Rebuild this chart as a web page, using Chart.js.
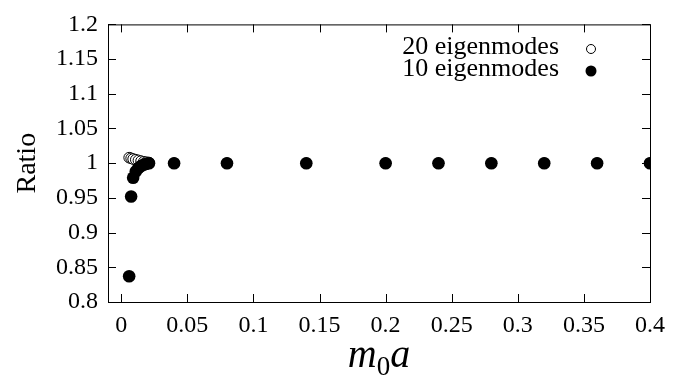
<!DOCTYPE html>
<html lang="en">
<head>
<meta charset="UTF-8">
<title>Ratio vs m0a</title>
<script src="https://cdn.jsdelivr.net/npm/chart.js"></script>
<style>
    body { margin: 0; background: #fff; }
    #wrap { width: 697px; height: 385px; }
</style>
</head>
<body>
<div id="wrap"><canvas id="chart" width="697" height="385"></canvas></div>
<script>
    // values
    const massValues = [0.006, 0.0075, 0.009, 0.011, 0.013, 0.015, 0.017, 0.019, 0.021,
                        0.04, 0.08, 0.14, 0.2, 0.24, 0.28, 0.32, 0.36, 0.4];
    const ratio20 = [1.008, 1.007, 1.006, 1.005, 1.004, 1.003, 1.002, 1.0015, 1.001,
                     1, 1, 1, 1, 1, 1, 1, 1, 1];
    const ratio10 = [0.837, 0.952, 0.979, 0.988, 0.993, 0.996, 0.998, 0.999, 1.0,
                     1, 1, 1, 1, 1, 1, 1, 1, 1];
    const xTicks = [0, 0.05, 0.1, 0.15, 0.2, 0.25, 0.3, 0.35, 0.4];
    const yTicks = [0.8, 0.85, 0.9, 0.95, 1, 1.05, 1.1, 1.15, 1.2];
    const seriesNames = ["20 eigenmodes", "10 eigenmodes"];

    const serif = "'Liberation Serif', 'DejaVu Serif', serif";

    function toPoints(xs, ys) {
        return xs.map((x, i) => ({ x: x, y: ys[i] }));
    }

    // inward tick marks on all four sides + x title + legend
    const decorations = {
        id: "decorations",
        afterDraw(chart) {
            const ctx = chart.ctx;
            const a = chart.chartArea;
            const xs = chart.scales.x, ys = chart.scales.y;
            ctx.save();
            ctx.strokeStyle = "#000";
            ctx.lineWidth = 1;
            ctx.strokeRect(a.left + 0.5, a.top + 0.5, a.right - a.left, a.bottom - a.top);
            ctx.beginPath();
            xTicks.forEach(v => {
                const px = Math.round(xs.getPixelForValue(v)) + 0.5;
                ctx.moveTo(px, a.bottom); ctx.lineTo(px, a.bottom - 8);
                ctx.moveTo(px, a.top); ctx.lineTo(px, a.top + 8);
            });
            yTicks.forEach(v => {
                const py = Math.round(ys.getPixelForValue(v)) + 0.5;
                ctx.moveTo(a.left, py); ctx.lineTo(a.left + 8, py);
                ctx.moveTo(a.right, py); ctx.lineTo(a.right - 8, py);
            });
            ctx.stroke();

            // x axis title: m_0 a
            ctx.fillStyle = "#000";
            ctx.textBaseline = "alphabetic";
            ctx.textAlign = "left";
            ctx.font = "italic 40px " + serif;
            const mW = ctx.measureText("m").width;
            ctx.font = "27px " + serif;
            const zW = ctx.measureText("0").width;
            ctx.font = "italic 40px " + serif;
            const aW = ctx.measureText("a").width;
            let x0 = (a.left + a.right) / 2 - (mW + zW + aW) / 2;
            const base = 367;
            ctx.fillText("m", x0, base);
            ctx.font = "27px " + serif;
            ctx.fillText("0", x0 + mW, base + 8);
            ctx.font = "italic 40px " + serif;
            ctx.fillText("a", x0 + mW + zW, base);

            // legend in top right
            ctx.font = "26px " + serif;
            ctx.textAlign = "right";
            ctx.textBaseline = "middle";
            const rows = [47, 69];
            seriesNames.forEach((name, i) => {
                ctx.fillText(name, 559, rows[i]);
                ctx.beginPath();
                ctx.arc(591, rows[i] + 2, i === 0 ? 4.5 : 5.5, 0, Math.PI * 2);
                if (i === 0) { ctx.fillStyle = "#fff"; ctx.fill(); ctx.stroke(); }
                else { ctx.fillStyle = "#000"; ctx.fill(); }
                ctx.fillStyle = "#000";
            });
            ctx.restore();
        }
    };

    new Chart(document.getElementById("chart").getContext("2d"), {
        type: "scatter",
        data: {
            datasets: [
                {
                    label: seriesNames[0],
                    data: toPoints(massValues, ratio20),
                    pointRadius: 5.3,
                    pointBackgroundColor: "#fff",
                    pointBorderColor: "#000",
                    pointBorderWidth: 1,
                    order: 1
                },
                {
                    label: seriesNames[1],
                    data: toPoints(massValues, ratio10),
                    pointRadius: 6.3,
                    pointBackgroundColor: "#000",
                    pointBorderColor: "#000",
                    pointBorderWidth: 0,
                    order: 0
                }
            ]
        },
        options: {
            responsive: false,
            animation: false,
            layout: { padding: { left: 0, right: 47, top: 14, bottom: 0 } },
            plugins: { legend: { display: false }, tooltip: { enabled: false } },
            scales: {
                x: {
                    type: "linear",
                    min: -0.01,
                    max: 0.4,
                    afterBuildTicks: s => { s.ticks = xTicks.map(v => ({ value: v })); },
                    afterFit: s => { s.height = 83; },
                    grid: { display: false, drawTicks: false },
                    border: { display: false },
                    ticks: {
                        color: "#000",
                        padding: 9,
                        maxRotation: 0,
                        font: { family: serif, size: 24 },
                        callback: v => String(v)
                    }
                },
                y: {
                    min: 0.8,
                    max: 1.2,
                    afterBuildTicks: s => { s.ticks = yTicks.map(v => ({ value: v })); },
                    afterFit: s => { s.width = 108; },
                    grid: { display: false, drawTicks: false },
                    border: { display: false },
                    title: {
                        display: true,
                        text: "Ratio",
                        color: "#000",
                        font: { family: serif, size: 28 },
                        padding: { top: 11, bottom: 0 }
                    },
                    ticks: {
                        color: "#000",
                        padding: 10,
                        font: { family: serif, size: 24 },
                        callback: v => String(v)
                    }
                }
            }
        },
        plugins: [decorations]
    });
</script>
</body>
</html>
